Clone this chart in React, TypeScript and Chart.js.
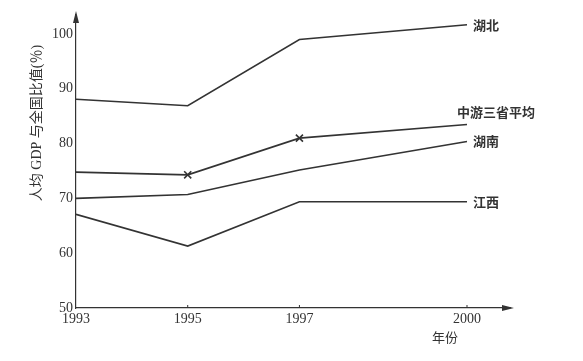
import React, { useEffect, useRef } from "react";
import { Chart, registerables } from "chart.js";

Chart.register(...registerables);

const years = [1993, 1995, 1997, 2000];
const xTickYears = [1993, 1995, 1997, 2000];
const yTickValues = [50, 60, 70, 80, 90, 100];

const hubei = [88.1, 86.9, 99.0, 101.7];
const zhongyou = [74.8, 74.3, 81.0, 83.5];
const hunan = [70.0, 70.7, 75.2, 80.4];
const jiangxi = [67.1, 61.3, 69.4, 69.4];

const seriesNames = ["湖北", "中游三省平均", "湖南", "江西"];
const yTitle = "人均 GDP 与全国比值(％)";
const xTitle = "年份";

const INK = "#333333";

const labelOffsets: Record<string, [number, number]> = {
  湖北: [6, 0],
  中游三省平均: [-10, -12],
  湖南: [6, 0],
  江西: [6, 0],
};

const decorPlugin = {
  id: "decor",
  afterDraw(chart: any) {
    const ctx = chart.ctx;
    const xs = chart.scales.x;
    const ys = chart.scales.y;
    const left = xs.left;
    const bottom = ys.bottom;
    const top = ys.top;
    const right = xs.right;
    ctx.save();
    ctx.fillStyle = INK;
    // y arrow
    ctx.beginPath();
    ctx.moveTo(left, top - 4);
    ctx.lineTo(left - 3, top + 8);
    ctx.lineTo(left + 3, top + 8);
    ctx.closePath();
    ctx.fill();
    // x arrow
    ctx.beginPath();
    ctx.moveTo(right + 4, bottom);
    ctx.lineTo(right - 8, bottom - 3);
    ctx.lineTo(right - 8, bottom + 3);
    ctx.closePath();
    ctx.fill();
    // small x tick marks inside
    ctx.strokeStyle = INK;
    ctx.lineWidth = 1;
    for (const yr of xTickYears.slice(1)) {
      const px = xs.getPixelForValue(yr);
      ctx.beginPath();
      ctx.moveTo(px, bottom);
      ctx.lineTo(px, bottom - 3);
      ctx.stroke();
    }
    // series labels
    ctx.font = "bold 13px 'Noto Sans CJK SC'";
    ctx.textBaseline = "middle";
    ctx.textAlign = "left";
    chart.data.datasets.forEach((ds: any, i: number) => {
      const meta = chart.getDatasetMeta(i);
      const last = meta.data[meta.data.length - 1];
      const off = labelOffsets[ds.label] || [6, 0];
      ctx.fillText(ds.label, last.x + off[0], last.y + off[1]);
    });
    // x title
    ctx.font = "13px 'Noto Sans CJK SC'";
    ctx.textAlign = "center";
    ctx.fillText(xTitle, 445, 337);
    // y title
    ctx.translate(37, 123);
    ctx.rotate(-Math.PI / 2);
    ctx.font = "14px 'Liberation Serif', 'Noto Sans CJK SC'";
    ctx.fillText(yTitle, 0, 0);
    ctx.restore();
  },
};

export default function App() {
  const ref = useRef<HTMLCanvasElement>(null);
  useEffect(() => {
    if (!ref.current) return;
    const mk = (label: string, values: number[], extra: any = {}) => ({
      label,
      data: years.map((y, i) => ({ x: y, y: values[i] })),
      borderColor: INK,
      backgroundColor: INK,
      borderWidth: 1.6,
      pointRadius: 0,
      tension: 0,
      ...extra,
    });
    const chart = new Chart(ref.current, {
      type: "line",
      data: {
        datasets: [
          mk(seriesNames[0], hubei),
          mk(seriesNames[1], zhongyou, {
            pointStyle: "crossRot",
            pointRadius: [0, 5, 5, 0],
            pointBorderWidth: 1.6,
          }),
          mk(seriesNames[2], hunan),
          mk(seriesNames[3], jiangxi),
        ],
      },
      options: {
        animation: false,
        responsive: false,
        devicePixelRatio: 1,
        layout: { padding: { top: 15, right: 73, left: 0, bottom: 0 } },
        plugins: { legend: { display: false }, tooltip: { enabled: false } },
        scales: {
          x: {
            type: "linear",
            min: 1993,
            max: 2000.77,
            grid: { display: false, drawTicks: false },
            border: { display: true, color: INK, width: 1.2 },
            afterBuildTicks: (s: any) => {
              s.ticks = xTickYears.map((v) => ({ value: v }));
            },
            afterFit: (s: any) => {
              s.height = 53;
            },
            ticks: {
              color: INK,
              padding: 3,
              maxRotation: 0,
              autoSkip: false,
              font: { family: "'Liberation Serif'", size: 14 },
              callback: (v: any) => String(v),
            },
          },
          y: {
            type: "linear",
            min: 50,
            max: 103.47,
            grid: { display: false, drawTicks: false },
            border: { display: true, color: INK, width: 1.2 },
            afterBuildTicks: (s: any) => {
              s.ticks = yTickValues.map((v) => ({ value: v }));
            },
            afterFit: (s: any) => {
              s.width = 76;
            },
            ticks: {
              color: INK,
              padding: 3,
              autoSkip: false,
              font: { family: "'Liberation Serif'", size: 14 },
              callback: (v: any) => String(v),
            },
          },
        },
      },
      plugins: [decorPlugin],
    });
    return () => chart.destroy();
  }, []);
  return (
    <div style={{ position: "fixed", left: 0, top: 0, width: 583, height: 361, background: "#fff" }}>
      <canvas ref={ref} width={583} height={361} style={{ width: 583, height: 361 }} />
    </div>
  );
}
